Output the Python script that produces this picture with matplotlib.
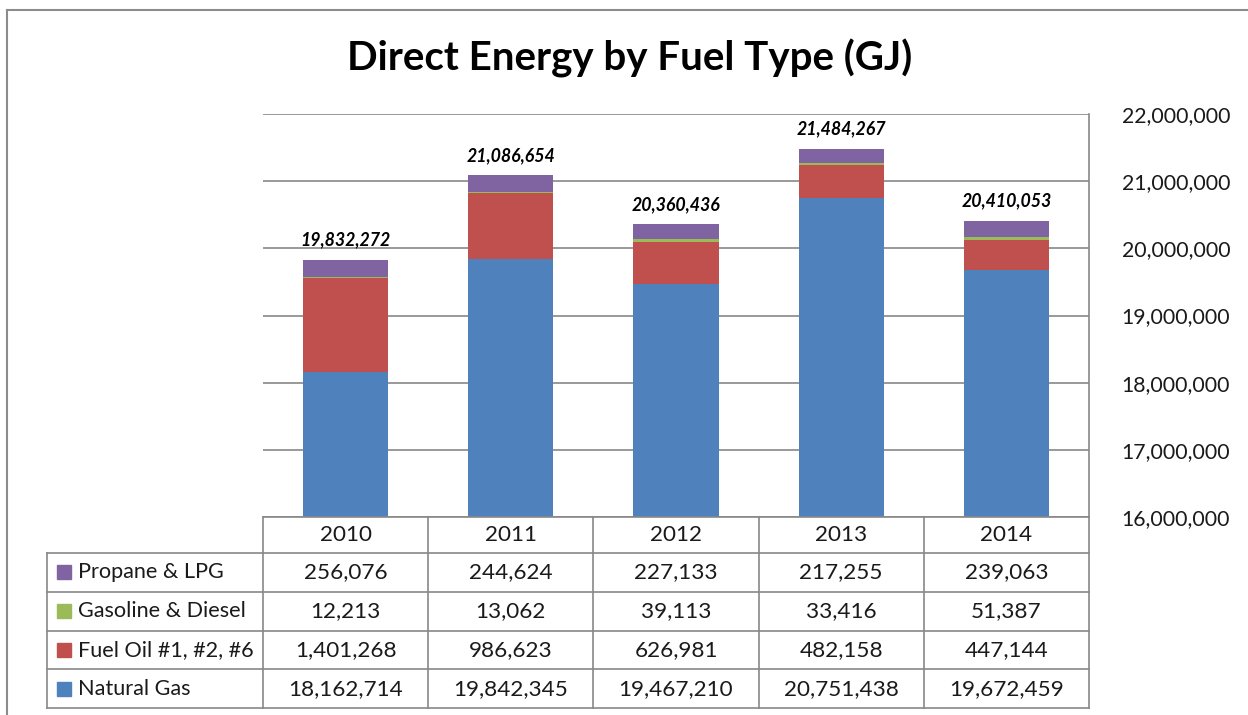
import matplotlib
matplotlib.use('Agg')
import matplotlib.pyplot as plt
from matplotlib.patches import Rectangle
from matplotlib.lines import Line2D

plt.rcParams['font.family'] = ['Lato', 'DejaVu Sans']

years = ['2010', '2011', '2012', '2013', '2014']
natural_gas = [18162714, 19842345, 19467210, 20751438, 19672459]
fuel_oil = [1401268, 986623, 626981, 482158, 447144]
gasoline = [12213, 13062, 39113, 33416, 51387]
propane = [256076, 244624, 227133, 217255, 239063]
totals = [19832272, 21086654, 20360436, 21484267, 20410053]

series = [
    ('Natural Gas', natural_gas, '#4F81BD'),
    ('Fuel Oil #1, #2, #6', fuel_oil, '#C0504D'),
    ('Gasoline & Diesel', gasoline, '#9BBB59'),
    ('Propane & LPG', propane, '#8064A2'),
]

W, H = 1248, 715
fig = plt.figure(figsize=(W / 100, H / 100), dpi=100, facecolor='white')

def fx(px):
    return px / W

def fy(py):
    return 1 - py / H

grid_col = '#888888'
txt_col = '#1a1a1a'

# outer chart frame (left and top edges visible)
fig.add_artist(Line2D([fx(7), fx(7)], [fy(10), 0], color='#8c8c8c', lw=1.5))
fig.add_artist(Line2D([fx(7), 1], [fy(10), fy(10)], color='#8c8c8c', lw=1.5))

# main plot area
x0, x1, ytop, ybot = 263, 1089, 114, 517
ax = fig.add_axes([fx(x0), fy(ybot), fx(x1 - x0), fy(ytop) - fy(ybot)])
xs = list(range(len(years)))
bottom = [0] * len(years)
for name, vals, col in series:
    ax.bar(xs, vals, bottom=bottom, width=0.515, color=col, zorder=3)
    bottom = [b + v for b, v in zip(bottom, vals)]

for x, b, t in zip(xs, bottom, totals):
    ax.annotate(f'{t:,}', (x, b), xytext=(0, 8), textcoords='offset points',
                ha='center', va='bottom', fontsize=12.8, fontweight='bold',
                fontstyle='italic', color='black')

ax.set_xlim(-0.5, len(years) - 0.5)
ax.set_ylim(16000000, 22000000)
ax.set_yticks(range(16000000, 22000001, 1000000))
ax.yaxis.tick_right()
ax.yaxis.set_major_formatter(matplotlib.ticker.FuncFormatter(lambda v, p: f'{int(v):,}'))
ax.tick_params(axis='y', length=0, pad=23.5, labelsize=15.3, colors=txt_col)
ax.set_xticks([])
ax.grid(axis='y', color=grid_col, lw=1.2, zorder=0)
for s in ['top', 'left', 'bottom']:
    ax.spines[s].set_visible(False)
ax.spines['right'].set_color(grid_col)
ax.spines['right'].set_linewidth(1.2)

fig.suptitle('Direct Energy by Fuel Type (GJ)', x=fx(630), y=fy(58), va='center',
             fontsize=29, fontweight='bold')

# data table below the plot
lab_w = (x0 - 47) / ((x1 - x0) / len(years))
tax = fig.add_axes([fx(47), fy(708), fx(x1 - 47), fy(517) - fy(708)])
nrow = len(series)
head_h = 0.93
tax.set_xlim(-0.5 - lab_w, len(years) - 0.5)
tax.set_ylim(0, nrow + head_h)
tax.axis('off')
lkw = dict(color=grid_col, lw=1.2, clip_on=False)
for r in range(nrow + 1):
    tax.plot([-0.5 - lab_w, len(years) - 0.5], [r, r], **lkw)
tax.plot([-0.5, len(years) - 0.5], [nrow + head_h] * 2, **lkw)
tax.plot([-0.5 - lab_w] * 2, [0, nrow], **lkw)
for c in range(len(years) + 1):
    tax.plot([c - 0.5] * 2, [0, nrow + head_h], **lkw)

fs = 16.2
for c, yr in enumerate(years):
    tax.text(c, nrow + head_h / 2, yr, ha='center', va='center', fontsize=fs,
             color=txt_col)
for r, (name, vals, col) in enumerate(series):
    yc = r + 0.5
    tax.add_patch(Rectangle((-0.5 - lab_w + 0.06, yc - 0.18), 0.085, 0.36,
                            color=col, clip_on=False))
    tax.text(-0.5 - lab_w + 0.185, yc, name, ha='left', va='center',
             fontsize=15.6, color=txt_col)
    for c, v in enumerate(vals):
        tax.text(c, yc, f'{v:,}', ha='center', va='center', fontsize=fs,
                 color=txt_col)

fig.savefig('out.png', dpi=100, facecolor='white')
